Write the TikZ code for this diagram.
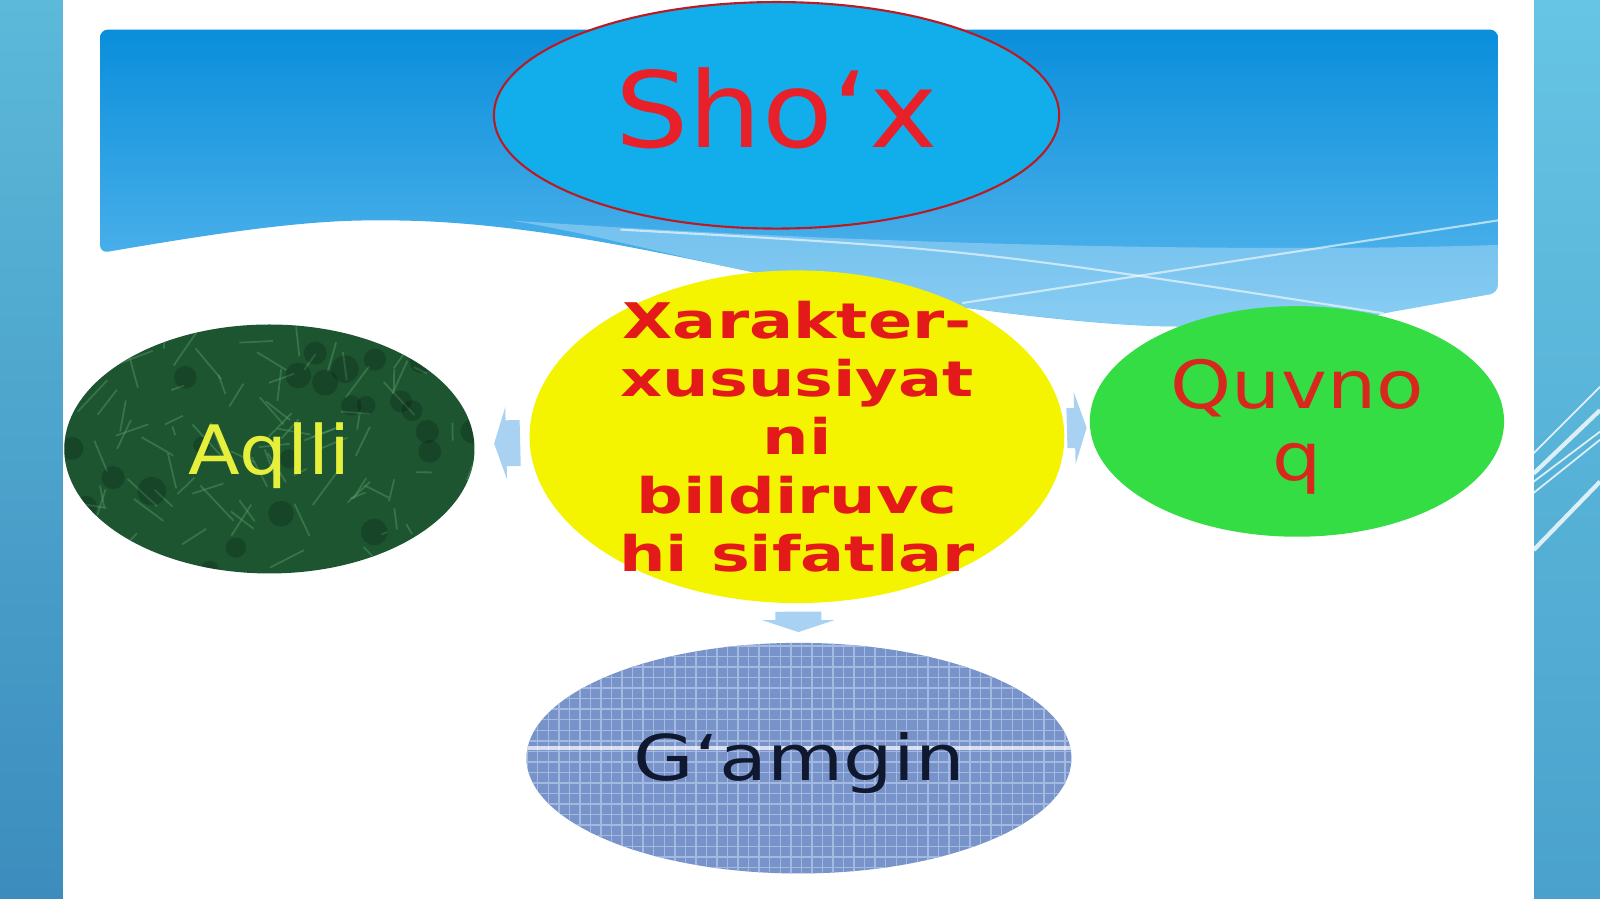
\documentclass[tikz,border=0pt]{standalone}
\usepackage{fontspec}
\setmainfont{DejaVu Sans}
\newfontfamily\shoxfont[FakeStretch=1.1]{DejaVu Sans}
\newfontfamily\traitfont[FakeStretch=1.33]{DejaVu Sans}
\newfontfamily\aqllifont[FakeStretch=1.11]{DejaVu Sans}
\newfontfamily\quvnofont[FakeStretch=1.17]{DejaVu Sans}
\newfontfamily\gamginfont[FakeStretch=1.24]{DejaVu Sans}
\usetikzlibrary{arrows.meta, shapes.geometric, patterns, positioning}

\definecolor{stripltop}{HTML}{5CB9DA}
\definecolor{striplbot}{HTML}{3C8DBD}
\definecolor{striprtop}{HTML}{66C4E4}
\definecolor{striprbot}{HTML}{4AA2CC}
\definecolor{headtop}{HTML}{0A8EDB}
\definecolor{headbot}{HTML}{5CBAEF}
\definecolor{shoxblue}{HTML}{12AEEC}
\definecolor{shoxred}{HTML}{E8202A}
\definecolor{traityellow}{HTML}{F4F400}
\definecolor{traitred}{HTML}{E41A1A}
\definecolor{quvnogreen}{HTML}{35DD45}
\definecolor{quvnored}{HTML}{D8281E}
\definecolor{moss}{HTML}{1D5530}
\definecolor{mosslight}{HTML}{5A9A6A}
\definecolor{aqlliyellow}{HTML}{E6F03C}
\definecolor{denim}{HTML}{7893CA}
\definecolor{denimlight}{HTML}{A3B9E0}
\definecolor{gamginink}{HTML}{101830}
\definecolor{arrowblue}{HTML}{A9D2F2}

\begin{document}
\begin{tikzpicture}[yshift=-0.1837cm, scale=1.0204, every node/.append style={transform shape},
	every label/.append style={align=center, inner sep=0pt},
	bubble/.style={ellipse, inner sep=0pt},
	blockarrow/.style={draw=arrowblue, line width=0.46cm, -{Triangle[length=0.12cm, width=0.72cm]}}]
	\useasboundingbox (0,0.18) rectangle (15.68,8.99);

	% slide background
	\shade[top color=stripltop, bottom color=striplbot] (0,0.18) rectangle (0.62,8.99);
	\shade[top color=striprtop, bottom color=striprbot] (15.03,0.18) rectangle (15.68,8.99);
	\fill[white] (0.62,0.18) rectangle (15.03,8.99);
	\foreach \ya/\yb/\w in {4.55/5.20/0.5pt, 4.35/4.97/1.2pt, 4.27/4.76/0.5pt, 4.16/4.68/0.5pt, 3.60/4.27/1.2pt}
		\draw[white, opacity=0.8, line width=\w] (15.03,\ya) -- (15.68,\yb);

	% header wave
	\shade[top color=headtop, bottom color=headbot, rounded corners=0.08cm]
		(0.98,6.51) .. controls (2.2,6.72) and (3.0,6.83) .. (3.72,6.83)
		.. controls (5.0,6.83) and (6.3,6.55) .. (7.29,6.34)
		.. controls (8.6,6.07) and (10.5,5.80) .. (11.56,5.79)
		.. controls (12.5,5.78) and (13.3,5.85) .. (13.56,5.92) -- (14.68,6.12)
		-- (14.68,8.70) -- (0.98,8.70) -- cycle;
	\fill[white, opacity=0.28] (5.0,6.83) .. controls (8,6.62) and (12,6.5) .. (14.68,6.59)
		-- (14.68,6.12) -- (13.56,5.92) .. controls (13.3,5.85) and (12.5,5.78) .. (11.56,5.79)
		.. controls (10.5,5.80) and (8.6,6.07) .. (7.29,6.34) .. controls (6.5,6.51) and (5.7,6.72) .. (5.0,6.83);
	\draw[white, opacity=0.6, line width=0.6pt] (6.08,6.74) .. controls (9.5,6.55) .. (13.56,5.92);
	\draw[white, opacity=0.6, line width=0.6pt] (9.43,6.02) -- (14.68,6.83);

	% bubbles
	\node[bubble, fill=shoxblue, draw=shoxred!80!black, line width=0.6pt, minimum width=5.54cm, minimum height=2.22cm,
		label={[yshift=0.07cm, font=\shoxfont\fontsize{29.3}{30}\selectfont, text=shoxred]center:Sho‘x}] (shox) at (7.61,7.86) {};
	\node[bubble, fill=traityellow, minimum width=5.24cm, minimum height=3.26cm,
		label={[font=\traitfont\bfseries\fontsize{13.7}{16.2}\selectfont, text=traitred]center:Xarakter-\\xususiyat\\ni\\bildiruvc\\hi sifatlar}] (traits) at (7.81,4.71) {};
	\node[bubble, fill=moss, minimum width=4.02cm, minimum height=2.44cm,
		path picture={
			\pgfmathsetseed{7}
			\foreach \i in {1,...,90}
				\draw[mosslight, opacity=0.45, line width=0.5pt] (path picture bounding box.center) ++(rand*2,rand*1.2) -- ++(rand*0.35,rand*0.35);
			\foreach \i in {1,...,30}
				\fill[black, opacity=0.18] (path picture bounding box.center) ++(rand*2,rand*1.2) circle (0.08+0.06*rnd);
		},
		label={[yshift=-0.07cm, font=\aqllifont\fontsize{19}{20}\selectfont, text=aqlliyellow]center:Aqlli}] (aqlli) at (2.64,4.59) {};
	\node[bubble, fill=quvnogreen, minimum width=4.06cm, minimum height=2.26cm,
		label={[yshift=-0.05cm, font=\quvnofont\fontsize{18.5}{20}\selectfont, text=quvnored]center:Quvno\\q}] (quvnoq) at (12.71,4.86) {};
	\node[bubble, fill=denim, minimum width=5.34cm, minimum height=2.26cm,
		path picture={
			\fill[pattern=grid, pattern color=denimlight] (path picture bounding box.south west) rectangle (path picture bounding box.north east);
			\draw[white, opacity=0.7, line width=1pt] (path picture bounding box.center) ++(-3,0.1) -- ++(6,0);
		},
		label={[yshift=-0.05cm, font=\gamginfont\fontsize{17.6}{19}\selectfont, text=gamginink]center:G‘amgin}] (gamgin) at (7.83,1.56) {};

	% arrows
	\path
		(traits) edge[blockarrow, shorten <=0.09cm, shorten >=0.19cm] (aqlli)
		(traits) edge[blockarrow, line width=0.4cm, shorten <=0.02cm, shorten >=0.03cm] (quvnoq)
		(traits) edge[blockarrow, shorten <=0.08cm, shorten >=0.10cm] (gamgin);
\end{tikzpicture}
\end{document}
